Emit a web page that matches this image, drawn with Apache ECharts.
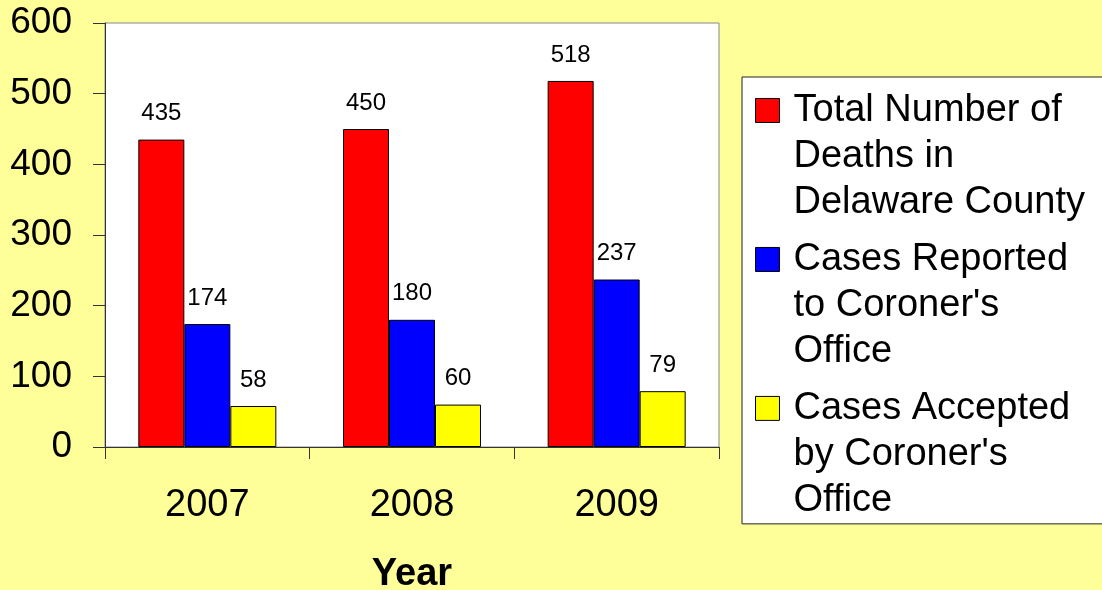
<!DOCTYPE html>
<html>
<head>
<meta charset="utf-8" />
<title>Delaware County deaths and coroner cases</title>
<script src="https://cdn.jsdelivr.net/npm/echarts@6/dist/echarts.min.js"></script>
<style type="text/css">
html, body {
	margin: 0;
	padding: 0;
	background-color: #FFFF99;
}
#chart {
	width: 1102px;
	height: 590px;
}
</style>
</head>
<body>
	<div id="chart"></div>
	<script>
		// data
		let years = ['2007', '2008', '2009'];
		let seriesNames = [
			'Total Number of\nDeaths in\nDelaware County',
			"Cases Reported\nto Coroner's\nOffice",
			"Cases Accepted\nby Coroner's\nOffice"
		];
		let totalDeaths = [435, 450, 518];
		let casesReported = [174, 180, 237];
		let casesAccepted = [58, 60, 79];
		let barColors = ['#FF0000', '#0000FF', '#FFFF00'];

		let font = 'Liberation Sans, Arial, sans-serif';

		function makeSeries(idx, values) {
			return {
				name: seriesNames[idx],
				type: 'bar',
				data: values,
				barWidth: 46,
				barGap: '0%',
				itemStyle: {
					color: barColors[idx],
					borderColor: '#000',
					borderWidth: 1
				},
				label: {
					show: true,
					position: 'top',
					distance: 14,
					fontFamily: font,
					fontSize: 24,
					color: '#000'
				}
			};
		}

		let chart = echarts.init(document.getElementById('chart'));
		chart.setOption({
			backgroundColor: '#FFFF99',
			animation: false,
			grid: {
				left: 105,
				right: 383,
				top: 23,
				bottom: 143,
				outerBoundsMode: 'none',
				show: true,
				backgroundColor: '#fff',
				borderColor: '#888',
				borderWidth: 1
			},
			//legend: marker sits on the first line of each name
			legend: {
				orient: 'vertical',
				left: 742,
				top: 77,
				padding: [10, 40, 0, 13],
				itemGap: 10,
				itemWidth: 33,
				itemHeight: 138,
				icon: 'path://M0,11L24,11L24,35L0,35Z M0,0L0.01,0 M33,138L33.01,138',
				itemStyle: {
					borderColor: '#000',
					borderWidth: 1
				},
				backgroundColor: '#fff',
				borderColor: '#222',
				borderWidth: 1,
				textStyle: {
					fontFamily: font,
					fontSize: 38,
					lineHeight: 46,
					color: '#000'
				},
				data: seriesNames
			},
			xAxis: {
				type: 'category',
				data: years,
				name: 'Year',
				nameLocation: 'middle',
				nameGap: 109,
				nameTextStyle: {
					fontFamily: font,
					fontSize: 38,
					fontWeight: 'bold',
					color: '#000'
				},
				axisLine: { lineStyle: { color: '#333', width: 1 } },
				axisTick: { show: true, length: 12, lineStyle: { color: '#333' } },
				axisLabel: {
					margin: 40,
					fontFamily: font,
					fontSize: 38,
					color: '#000'
				}
			},
			yAxis: {
				type: 'value',
				min: 0,
				max: 600,
				interval: 100,
				splitLine: { show: false },
				axisLine: { show: true, lineStyle: { color: '#333', width: 1 } },
				axisTick: { show: true, length: 12, lineStyle: { color: '#333' } },
				axisLabel: {
					margin: 33,
					fontFamily: font,
					fontSize: 37,
					color: '#000'
				}
			},
			series: [
				makeSeries(0, totalDeaths),
				makeSeries(1, casesReported),
				makeSeries(2, casesAccepted)
			]
		});
	</script>
</body>
</html>
